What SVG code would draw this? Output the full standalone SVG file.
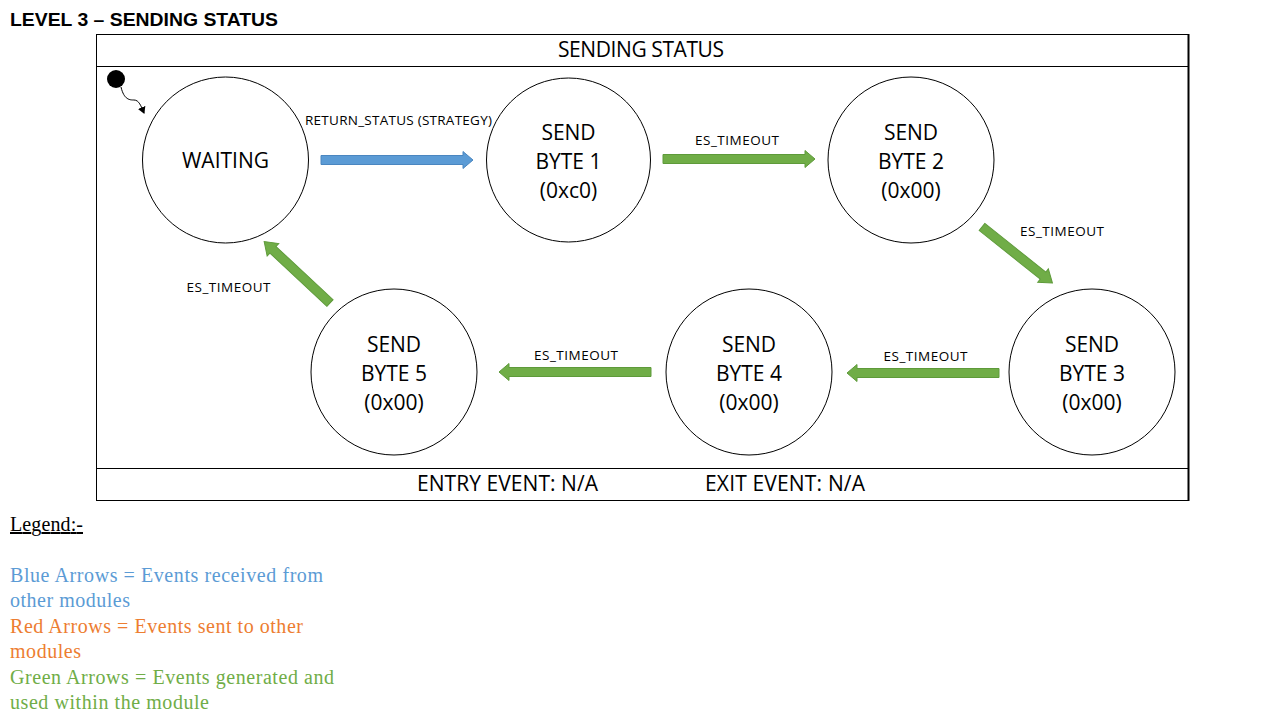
<svg xmlns="http://www.w3.org/2000/svg" width="1280" height="720" viewBox="0 0 1280 720">
<style>
.st{fill:#fff;stroke:#000;stroke-width:1}
.nt{font-family:"Open Sans","Noto Sans",sans-serif;font-size:21px;fill:#000;text-anchor:middle}
.lb{font-family:"Open Sans","Noto Sans",sans-serif;font-size:13.5px;fill:#000;text-anchor:middle}
.blue{fill:#5B9BD5;stroke:#4A86C0;stroke-width:1}
.green{fill:#70AD47;stroke:#5E9A3A;stroke-width:1}
.lg{font-family:"Liberation Serif",serif;font-size:20px}
</style>
<defs>
<marker id="ah" markerWidth="8" markerHeight="8" refX="6" refY="4" orient="auto" markerUnits="userSpaceOnUse">
<path d="M0,0 L7,4 L0,8 z" fill="#000"/>
</marker>
<path id="arr" d="M0,-4.5 L142,-4.5 L142,-8.5 L152,0 L142,8.5 L142,4.5 L0,4.5 z"/>
<path id="darr" d="M0,-4.5 L78,-4.5 L78,-8.5 L90,0 L78,8.5 L78,4.5 L0,4.5 z"/>
</defs>
<rect width="1280" height="720" fill="#fff"/>
<text x="10" y="26" font-family="Liberation Sans,Arial,sans-serif" font-weight="bold" font-size="19" textLength="268" lengthAdjust="spacingAndGlyphs">LEVEL 3 – SENDING STATUS</text>
<g id="frame">
<rect x="96.5" y="34.5" width="1092" height="466" fill="none" stroke="#000" stroke-width="1"/>
<line x1="96" y1="66.5" x2="1189" y2="66.5" stroke="#000"/>
<line x1="96" y1="468.5" x2="1189" y2="468.5" stroke="#000"/>
<line x1="1188.5" y1="34" x2="1188.5" y2="501" stroke="#000" stroke-width="2"/>
<text class="nt" x="641" y="57" font-size="20" textLength="166">SENDING STATUS</text>
<text class="nt" x="507.5" y="491" font-size="20" textLength="181">ENTRY EVENT: N/A</text>
<text class="nt" x="785" y="491" font-size="20" textLength="160">EXIT EVENT: N/A</text>
</g>
<g id="initial">
<circle cx="116" cy="79" r="9" fill="#000"/>
</g>
<g id="waiting"><circle class="st" cx="225.5" cy="160" r="83"/><text class="nt" x="225.5" y="168">WAITING</text></g>
<g id="byte1"><circle class="st" cx="568.5" cy="160" r="82"/><text class="nt" x="568.5" y="140">SEND</text><text class="nt" x="568.5" y="169">BYTE 1</text><text class="nt" x="568.5" y="198">(0xc0)</text></g>
<g id="byte2"><circle class="st" cx="911" cy="160" r="83"/><text class="nt" x="911" y="140">SEND</text><text class="nt" x="911" y="169">BYTE 2</text><text class="nt" x="911" y="198">(0x00)</text></g>
<g id="byte3"><circle class="st" cx="1092" cy="372" r="83"/><text class="nt" x="1092" y="352">SEND</text><text class="nt" x="1092" y="381">BYTE 3</text><text class="nt" x="1092" y="410">(0x00)</text></g>
<g id="byte4"><circle class="st" cx="749" cy="372" r="83"/><text class="nt" x="749" y="352">SEND</text><text class="nt" x="749" y="381">BYTE 4</text><text class="nt" x="749" y="410">(0x00)</text></g>
<g id="byte5"><circle class="st" cx="394" cy="372" r="83"/><text class="nt" x="394" y="352">SEND</text><text class="nt" x="394" y="381">BYTE 5</text><text class="nt" x="394" y="410">(0x00)</text></g>
<g id="connectors">
<path d="M121,87 C124,100 130,100 134,100 C139,100 141,106 144,113" fill="none" stroke="#000" stroke-width="1" marker-end="url(#ah)"/>
<use href="#arr" class="blue" transform="translate(321,160)"/>
<use href="#arr" class="green" transform="translate(663,159)"/>
<use href="#arr" class="green" transform="translate(999,373) rotate(180)"/>
<use href="#arr" class="green" transform="translate(651,372) rotate(180)"/>
<use href="#darr" class="green" transform="translate(982,227) rotate(38.5)"/>
<use href="#darr" class="green" transform="translate(330,303) rotate(-137)"/>
<text class="lb" x="398.5" y="125" textLength="187">RETURN_STATUS (STRATEGY)</text>
<text class="lb" x="737" y="145" textLength="84">ES_TIMEOUT</text>
<text class="lb" x="1062" y="236" textLength="84">ES_TIMEOUT</text>
<text class="lb" x="925.5" y="361" textLength="84">ES_TIMEOUT</text>
<text class="lb" x="576" y="360" textLength="84">ES_TIMEOUT</text>
<text class="lb" x="228.5" y="292" textLength="84">ES_TIMEOUT</text>
</g>
<g id="legend" class="lg">
<text x="10" y="531" fill="#000" text-decoration="underline" textLength="73">Legend:-</text>
<text x="10" y="582" fill="#5B9BD5" textLength="313">Blue Arrows = Events received from</text>
<text x="10" y="607" fill="#5B9BD5" textLength="120">other modules</text>
<text x="10" y="633" fill="#ED7D31" textLength="293">Red Arrows = Events sent to other</text>
<text x="10" y="658" fill="#ED7D31" textLength="71">modules</text>
<text x="10" y="684" fill="#70AD47" textLength="324">Green Arrows = Events generated and</text>
<text x="10" y="709" fill="#70AD47" textLength="199">used within the module</text>
</g>
</svg>
